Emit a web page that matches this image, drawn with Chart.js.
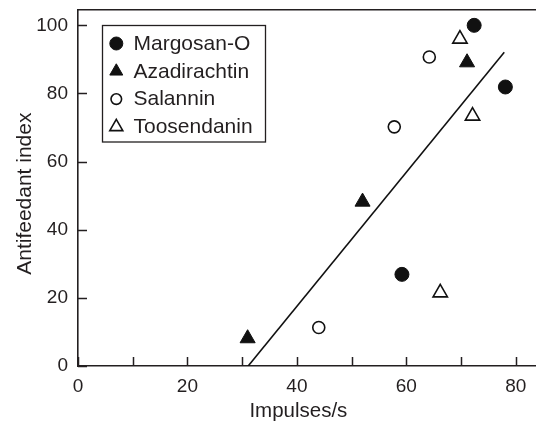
<!DOCTYPE html>
<html>
<head>
<meta charset="utf-8">
<title>Antifeedant index vs impulses</title>
<script src="https://cdn.jsdelivr.net/npm/chart.js@4/dist/chart.umd.min.js"></script>
<style>
    html, body { margin: 0; padding: 0; background: #ffffff; overflow: hidden; }
    #wrap { position: relative; width: 536px; height: 425px; }
</style>
</head>
<body>
<div id="wrap"><canvas id="plot"></canvas></div>
<script>
// ============================================
// Antifeedant index against impulses/s
// ============================================

// Series (x = impulses/s, y = antifeedant index)
const margosanX = [72.4, 78.1, 59.2];
const margosanY = [100, 81.9, 26.9];
const azadirachtinX = [71.1, 52.0, 31.0];
const azadirachtinY = [89.1, 48.2, 8.1];
const salanninX = [64.2, 57.8, 44.0];
const salanninY = [90.7, 70.2, 11.3];
const toosendaninX = [69.8, 72.1, 66.2];
const toosendaninY = [96.0, 73.4, 21.5];

// Regression line end points
const fitX = [31.1, 77.9];
const fitY = [0, 92.1];

// Axis ticks and titles
const xTickLabels = [0, 20, 40, 60, 80];
const yTickLabels = [0, 20, 40, 60, 80, 100];
const xTitle = 'Impulses/s';
const yTitle = 'Antifeedant index';

const INK = '#231f20';
const FONT = "'Liberation Sans', Arial, Helvetica, sans-serif";

const toPoints = (xs, ys) => xs.map((x, i) => ({ x: x, y: ys[i] }));

// Fixed axis box size, no extra room reserved for edge labels
function fixBox(size, horizontal) {
    return (scale) => {
        if (horizontal) scale.height = size; else scale.width = size;
        scale.paddingTop = 0;
        scale.paddingBottom = 0;
        scale.paddingLeft = 0;
        scale.paddingRight = 0;
    };
}

// Short tick marks drawn inside the plot frame
const innerTicks = {
    id: 'innerTicks',
    beforeDatasetsDraw(chart) {
        const ctx = chart.ctx;
        const xs = chart.scales.x;
        const ys = chart.scales.y;
        const len = 9;
        ctx.save();
        ctx.strokeStyle = INK;
        ctx.lineWidth = 1.5;
        ctx.beginPath();
        xs.ticks.forEach(t => {
            const px = Math.round(xs.getPixelForValue(t.value)) + 0.5;
            ctx.moveTo(px, xs.top);
            ctx.lineTo(px, xs.top - len);
        });
        ys.ticks.forEach(t => {
            const py = Math.round(ys.getPixelForValue(t.value)) + 0.5;
            ctx.moveTo(ys.right, py);
            ctx.lineTo(ys.right + len, py);
        });
        ctx.stroke();
        ctx.restore();
    }
};

// Axis titles, centred on the labelled part of each axis
const axisTitles = {
    id: 'axisTitles',
    afterDraw(chart) {
        const ctx = chart.ctx;
        const xs = chart.scales.x;
        const ys = chart.scales.y;
        const xMid = (xs.getPixelForValue(xTickLabels[0]) +
            xs.getPixelForValue(xTickLabels[xTickLabels.length - 1])) / 2;
        const yMid = (ys.getPixelForValue(yTickLabels[0]) +
            ys.getPixelForValue(yTickLabels[yTickLabels.length - 1])) / 2;

        ctx.save();
        ctx.fillStyle = INK;
        ctx.textAlign = 'center';
        ctx.textBaseline = 'alphabetic';

        ctx.font = `20.5px ${FONT}`;
        ctx.fillText(xTitle, xMid + 1.5, chart.height - 8.3);

        ctx.font = `21px ${FONT}`;
        ctx.translate(30.5, yMid - 2);
        ctx.rotate(-Math.PI / 2);
        ctx.fillText(yTitle, 0, 0);
        ctx.restore();
    }
};

// Boxed legend in the upper left of the plot
const boxLegend = {
    id: 'boxLegend',
    afterDatasetsDraw(chart) {
        const ctx = chart.ctx;
        const area = chart.chartArea;
        const boxX = area.left + 24;
        const boxY = area.top + 15;
        const boxW = 163;
        const boxH = 116.5;
        const rowH = 27.8;
        const markerSizes = [6.5, 7.5, 5.3, 7.5];

        ctx.save();
        ctx.fillStyle = '#ffffff';
        ctx.fillRect(boxX, boxY, boxW, boxH);
        ctx.strokeStyle = INK;
        ctx.lineWidth = 1.3;
        ctx.strokeRect(boxX + 0.5, boxY + 0.5, boxW, boxH);

        ctx.font = `21px ${FONT}`;
        ctx.textBaseline = 'middle';
        ctx.textAlign = 'left';

        chart.data.datasets.slice(0, 4).forEach((ds, i) => {
            const cy = boxY + 18.5 + i * rowH;
            const cx = boxX + 14.3;
            ctx.fillStyle = ds.backgroundColor;
            ctx.strokeStyle = ds.borderColor;
            ctx.lineWidth = ds.borderWidth;
            Chart.helpers.drawPoint(ctx, {
                pointStyle: ds.pointStyle,
                rotation: 0,
                radius: markerSizes[i],
                borderWidth: ds.borderWidth
            }, cx, cy);
            ctx.fillStyle = INK;
            ctx.fillText(ds.label, boxX + 31.5, cy + 0.5);
        });
        ctx.restore();
    }
};

const ctx = document.getElementById('plot').getContext('2d');

new Chart(ctx, {
    type: 'scatter',
    data: {
        datasets: [
            {
                label: 'Margosan-O',
                data: toPoints(margosanX, margosanY),
                pointStyle: 'circle',
                pointRadius: 7,
                backgroundColor: '#111111',
                borderColor: '#111111',
                borderWidth: 1
            },
            {
                label: 'Azadirachtin',
                data: toPoints(azadirachtinX, azadirachtinY),
                pointStyle: 'triangle',
                pointRadius: 8.7,
                backgroundColor: '#111111',
                borderColor: '#111111',
                borderWidth: 1
            },
            {
                label: 'Salannin',
                data: toPoints(salanninX, salanninY),
                pointStyle: 'circle',
                pointRadius: 6,
                backgroundColor: '#ffffff',
                borderColor: '#111111',
                borderWidth: 1.6
            },
            {
                label: 'Toosendanin',
                data: toPoints(toosendaninX, toosendaninY),
                pointStyle: 'triangle',
                pointRadius: 8.3,
                backgroundColor: '#ffffff',
                borderColor: '#111111',
                borderWidth: 1.6
            },
            {
                type: 'line',
                label: 'fit',
                data: toPoints(fitX, fitY),
                showLine: true,
                pointRadius: 0,
                borderColor: '#111111',
                borderWidth: 1.6,
                fill: false
            }
        ]
    },
    options: {
        responsive: true,
        maintainAspectRatio: false,
        animation: false,
        layout: { padding: 0, autoPadding: false },
        plugins: {
            legend: { display: false },
            tooltip: { enabled: false }
        },
        scales: {
            x: {
                type: 'linear',
                position: 'bottom',
                min: 0,
                max: 83.7,
                afterFit: fixBox(59, true),
                border: { display: true, color: INK, width: 1.6 },
                grid: { drawOnChartArea: false, drawTicks: false },
                ticks: {
                    stepSize: 10,
                    includeBounds: false,
                    maxRotation: 0,
                    autoSkip: false,
                    padding: 9,
                    color: INK,
                    font: { family: FONT, size: 19 },
                    callback: (v) => xTickLabels.includes(v) ? String(v) : ''
                }
            },
            top: {
                type: 'linear',
                position: 'top',
                min: 0,
                max: 1,
                afterFit: fixBox(10, true),
                border: { display: true, color: INK, width: 1.6 },
                grid: { drawOnChartArea: false, drawTicks: false },
                ticks: { display: false }
            },
            y: {
                type: 'linear',
                min: 0,
                max: 104.5,
                afterFit: fixBox(78, false),
                border: { display: true, color: INK, width: 1.6 },
                grid: { drawOnChartArea: false, drawTicks: false },
                ticks: {
                    stepSize: 20,
                    includeBounds: false,
                    padding: 10,
                    color: INK,
                    font: { family: FONT, size: 19 },
                    callback: (v) => yTickLabels.includes(v) ? String(v) : ''
                }
            }
        }
    },
    plugins: [innerTicks, boxLegend, axisTitles]
});
</script>
</body>
</html>
